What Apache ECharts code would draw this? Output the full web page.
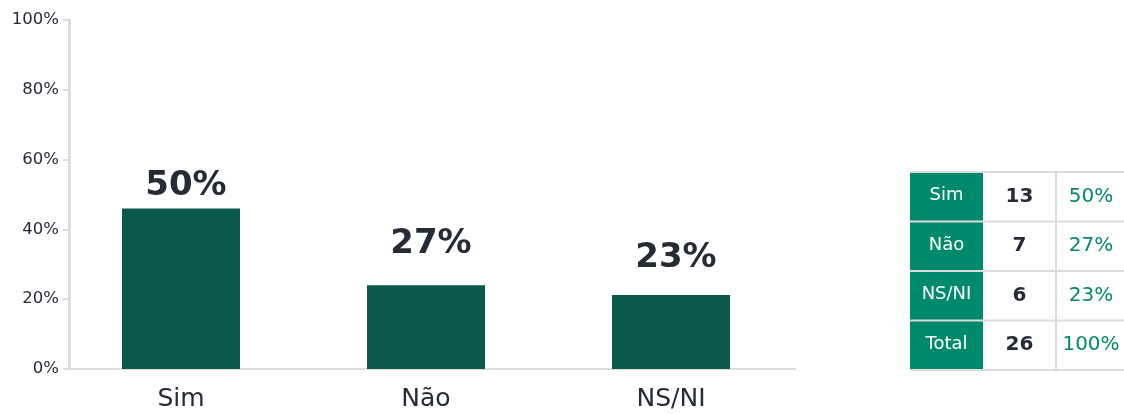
<!DOCTYPE html>
<html>
<head>
<meta charset="utf-8">
<script src="https://cdn.jsdelivr.net/npm/echarts@6/dist/echarts.min.js"></script>
<style>
  html, body { margin: 0; padding: 0; background: #fff; }
  #main { width: 1124px; height: 414px; }
</style>
</head>
<body>
<div id="main"></div>
<script>
(function () {
    'use strict';

    // dados do gráfico
    var categories = ['Sim', 'Não', 'NS/NI'];
    var barValues = [46, 24, 21.2];
    var labelValues = ['50%', '27%', '23%'];
    var yTicks = [0, 20, 40, 60, 80, 100];

    // tabela
    var tableLabels = ['Sim', 'Não', 'NS/NI', 'Total'];
    var tableCounts = [13, 7, 6, 26];
    var tablePcts = ['50%', '27%', '23%', '100%'];

    var FONT = '"DejaVu Sans", sans-serif';
    var TEXT = '#262b36';
    var GREEN = '#0a5a4b';
    var TEAL = '#00896b';
    var LINE = '#dcdcdc';

    // deslocamento vertical dos rótulos (layout)
    var labelLift = [3, -16, -12];

    var chart = echarts.init(document.getElementById('main'));

    // tabela à direita
    var tX = 910, tY = 172, rowH = 49.5, colW = [73, 73, 68];
    var table = [];
    tableLabels.forEach(function (lab, i) {
        var y = tY + i * rowH;
        table.push({
            type: 'rect', shape: {x: tX, y: y, width: colW[0], height: rowH},
            style: {fill: TEAL}
        });
        table.push({
            type: 'text', x: tX + colW[0] / 2, y: y + rowH / 2 - 1,
            style: {text: lab, fill: '#fff', font: '18px ' + FONT, align: 'center', verticalAlign: 'middle'}
        });
        table.push({
            type: 'text', x: tX + colW[0] + colW[1] / 2, y: y + rowH / 2,
            style: {text: String(tableCounts[i]), fill: TEXT, font: 'bold 20px ' + FONT, align: 'center', verticalAlign: 'middle'}
        });
        table.push({
            type: 'text', x: tX + colW[0] + colW[1] + colW[2] / 2 + 1, y: y + rowH / 2,
            style: {text: tablePcts[i], fill: TEAL, font: '20px ' + FONT, align: 'center', verticalAlign: 'middle'}
        });
    });
    for (var r = 0; r <= tableLabels.length; r++) {
        table.push({
            type: 'line', shape: {x1: tX, y1: tY + r * rowH, x2: 1124, y2: tY + r * rowH},
            style: {stroke: LINE, lineWidth: 2}
        });
    }
    table.push({
        type: 'line', shape: {x1: tX + colW[0] + colW[1], y1: tY, x2: tX + colW[0] + colW[1], y2: tY + 4 * rowH},
        style: {stroke: LINE, lineWidth: 2}
    });
    // linha do eixo x
    table.push({
        type: 'line', z: 1, shape: {x1: 69, y1: 369, x2: 796, y2: 369},
        style: {stroke: LINE, lineWidth: 2}
    });

    chart.setOption({
        animation: false,
        textStyle: {fontFamily: FONT},
        grid: {left: 58.5, right: 330.5, top: 20, bottom: 45, containLabel: false},
        xAxis: {
            type: 'category',
            data: categories,
            axisLine: {show: false},
            axisTick: {show: false},
            axisLabel: {color: TEXT, fontSize: 25, margin: 18}
        },
        yAxis: {
            type: 'value',
            min: yTicks[0],
            max: yTicks[yTicks.length - 1],
            interval: 20,
            offset: -10.5,
            splitLine: {show: false},
            axisLine: {show: true, lineStyle: {color: LINE, width: 3}},
            axisTick: {show: true, length: 6, lineStyle: {color: LINE, width: 2}},
            axisLabel: {color: TEXT, fontSize: 16.5, margin: 10, formatter: '{value}%'}
        },
        graphic: table,
        series: [{
            type: 'bar',
            barWidth: 118,
            itemStyle: {color: GREEN},
            data: barValues.map(function (v, i) {
                return {
                    value: v,
                    label: {offset: [5, labelLift[i]]}
                };
            }),
            label: {
                show: true,
                position: 'top',
                distance: 8,
                color: TEXT,
                fontSize: 34,
                fontWeight: 'bold',
                formatter: function (p) { return labelValues[p.dataIndex]; }
            }
        }]
    });
})();
</script>
</body>
</html>
